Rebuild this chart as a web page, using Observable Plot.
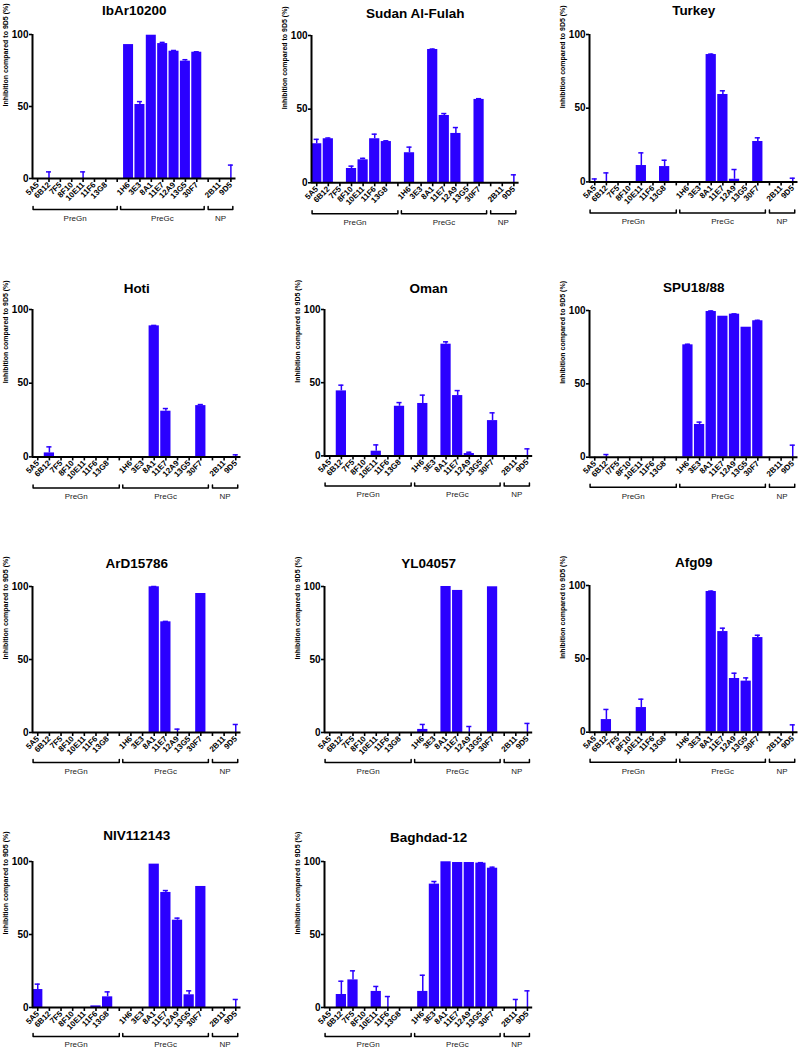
<!DOCTYPE html>
<html><head><meta charset="utf-8">
<script src="https://cdn.jsdelivr.net/npm/d3@7"></script>
<script src="https://cdn.jsdelivr.net/npm/@observablehq/plot@0.6"></script>
<style>
body{margin:0;background:#fff;}
#wrap{position:relative;width:798px;height:1050px;overflow:hidden;background:#fff;}
#wrap svg{position:absolute;overflow:visible;background:transparent;}
#wrap g[aria-label^="x-axis"] text{font-size:8px;font-weight:bold;fill:#000;}
#wrap g[aria-label^="y-axis"] text{font-size:10px;font-weight:bold;fill:#000;}
#wrap g[aria-label^="x-axis"] line,#wrap g[aria-label^="x-axis"] path,
#wrap g[aria-label^="y-axis"] line,#wrap g[aria-label^="y-axis"] path{stroke-width:1.6px;stroke:#000;}
</style></head><body><div id="wrap"></div><script>
const antibodies = ["5A5","6B12","7F5","8F10","10E11","11F6","13G8","1H6","3E3","8A1","11E7","12A9","13G5","30F7","2B11","9D5"];
const slotLabels = ["5A5","6B12","7F5","8F10","10E11","11F6","13G8","","1H6","3E3","8A1","11E7","12A9","13G5","30F7","","2B11","9D5"];
const spuSlotLabels = ["5A5","6B12","I7F5","8F10","10E11","11F6","13G8","","1H6","3E3","8A1","11E7","12A9","13G5","30F7","","2B11","9D5"];
const groups = ["PreGn","PreGc","NP"];
const yTicks = [0,50,100];
const yLabel = "Inhibition compared to 9D5 (%)";

const ibarMean = [0,0,0,0,0,0,0, 93,51.4,99.5,93.7,88.4,81.5,87.7, 0,0];
const ibarErr  = [0,4.6,0,0,4.6,0,0, 0,2,0,0.8,0.5,1,0.3, 0,9.3];
const sudanMean = [26.5,29.9,0,9.7,15.6,29.9,28, 20.4,0,90.5,45.7,33.5,0,56.6, 0,0];
const sudanErr  = [3,0.5,0,1.6,1,3.1,0.5, 3.8,0,0.3,1.3,4,0,0.5, 0,5.4];
const turkeyMean = [0,0,0,0,11.1,0,10.4, 0,0,86.4,59.3,1.8,0,27.4, 0,0];
const turkeyErr  = [2,6.1,0,0,8.6,0,4.3, 0,0,0.3,2.5,6.6,0,2.5, 0,2.5];
const hotiMean = [0,2.7,0,0,0,0,0, 0,0,88.9,31,0,0,34.8, 0,0];
const hotiErr  = [0,4.1,0,0,0,0,0, 0,0,0.3,1.8,0,0,0.7, 0,1.4];
const omanMean = [0,44.4,0,0,3.2,0,33.9, 35.8,0,76.3,41.2,1.6,0,24.1, 0,0];
const omanErr  = [0,3.9,0,0,4.3,0,2.5, 5.7,0,1.6,3.4,0.9,0,5.3, 0,4.8];
const spuMean = [0,0,0,0,0,0,0, 76.6,22.3,99.3,96.1,97.5,88.6,93, 0,0];
const spuErr  = [0,1.8,0,0,0,0,0, 0.4,1.6,0.4,0,0.2,0,0.3, 0,8.2];
const ardMean = [0,0,0,0,0,0,0, 0,0,99.8,75.8,0,0,95.2, 0,0];
const ardErr  = [0,0,0,0,0,0,0, 0,0,0.2,0.3,2.3,0,0, 0,5.5];
const ylMean = [0,0,0,0,0,0,0, 2.1,0,100,97.3,0,0,99.8, 0,0];
const ylErr  = [0,0,0,0,0,0,0, 3.4,0,0,0,4.1,0,0, 0,6.2];
const afgMean = [0,8.6,0,0,16.8,0,0, 0,0,95.9,68.6,36.6,34.8,64.5, 0,0];
const afgErr  = [0,6.9,0,0,5.7,0,0, 0,0,0.3,2.3,3.6,2.2,1.6, 0,5];
const nivMean = [12.3,0,0,0,0,1.1,7.3, 0,0,98.2,78.8,59.8,8.7,82.9, 0,0];
const nivErr  = [3.7,0,0,0,0,0,3.4, 0,0,0,1.3,1.4,2.7,0, 0,5.5];
const baghdadMean = [0,8.9,18.9,0,11,0,0, 11,84.5,99.8,99.3,99.3,98.9,95.4, 0,0];
const baghdadErr  = [0,9.1,6.2,0,3.4,7.5,0, 11.1,1.8,0,0,0,0.3,0.7, 5.5,11.4];

const panels = [
  {name:"IbAr10200", mean:ibarMean, err:ibarErr, labels:slotLabels},
  {name:"Sudan Al-Fulah", mean:sudanMean, err:sudanErr, labels:slotLabels},
  {name:"Turkey", mean:turkeyMean, err:turkeyErr, labels:slotLabels},
  {name:"Hoti", mean:hotiMean, err:hotiErr, labels:slotLabels},
  {name:"Oman", mean:omanMean, err:omanErr, labels:slotLabels},
  {name:"SPU18/88", mean:spuMean, err:spuErr, labels:spuSlotLabels},
  {name:"ArD15786", mean:ardMean, err:ardErr, labels:slotLabels},
  {name:"YL04057", mean:ylMean, err:ylErr, labels:slotLabels},
  {name:"Afg09", mean:afgMean, err:afgErr, labels:slotLabels},
  {name:"NIV112143", mean:nivMean, err:nivErr, labels:slotLabels},
  {name:"Baghdad-12", mean:baghdadMean, err:baghdadErr, labels:slotLabels}
];

// layout: [axisX, frameWidth, yTop(100), yBottom(0), titleCenterY, bracketOffset, bracketLabelOffset]
const layout = [
  [32, 203.5, 34.3, 178.3, 5.5, 31, 9],
  [310.7, 207.6, 35, 182.3, 8.3, 31, 9],
  [589.2, 208.5, 34.3, 181.7, 5.5, 31, 9],
  [32.4, 208.5, 309.3, 456.7, 283, 31, 9],
  [323.7, 208.2, 309.3, 455.7, 283, 30, 9],
  [589.2, 208.5, 310, 456.7, 282, 30, 9],
  [32.4, 208.5, 585.7, 731.7, 558, 30, 9],
  [323.7, 208.2, 585.7, 731.7, 558, 30, 9],
  [589.2, 208.5, 585, 731.7, 557, 30, 9],
  [32.4, 208.5, 860.7, 1006.7, 830, 29, 7.5],
  [323.7, 208.2, 860.7, 1006.7, 832, 29, 7.5]
];
const bracketStart = [-0.4, 7.3, 15.0];
const bracketEnd = [7.0, 14.65, 17.17];
const barColor = "#2b00ff";
const font = "'Liberation Sans', Arial, Helvetica, sans-serif";

function slotOf(k){ return k < 7 ? k : k < 14 ? k + 1 : k + 2; }
const slots = d3.range(slotLabels.length);
const wrap = document.getElementById("wrap");

panels.forEach((p, i) => {
  const [ax, w, yTop, yBot, ty, bo, lo] = layout[i];
  const h = yBot - yTop;
  const mL = 45, mR = 8, mT = 40, mB = 62;
  const rows = antibodies.map((a, k) => ({ab: a, s: slotOf(k), v: p.mean[k], e: p.err[k]}));
  const u = 100 / h;
  const brY = -bo * u, brTick = -(bo - 3) * u;
  const brPts = groups.flatMap((g, j) => [
    {g, x: bracketStart[j], y: brTick},
    {g, x: bracketStart[j], y: brY},
    {g, x: bracketEnd[j], y: brY},
    {g, x: bracketEnd[j], y: brTick}
  ]);
  const brLab = groups.map((g, j) => ({g, x: (bracketStart[j] + bracketEnd[j]) / 2}));
  const errs = rows.filter(r => r.e > 0);
  const svg = Plot.plot({
    width: mL + w + mR,
    height: mT + h + mB,
    marginLeft: mL, marginRight: mR, marginTop: mT, marginBottom: mB,
    style: {fontFamily: font, background: "transparent", overflow: "visible"},
    x: {domain: [-0.45, 17.45], ticks: slots, tickFormat: d => p.labels[d], tickRotate: -45, tickSize: 4, tickPadding: 1, label: null},
    y: {domain: [0, 100], ticks: yTicks, tickSize: 3, tickPadding: 1, label: null},
    marks: [
      Plot.rect(rows.filter(r => r.v > 0), {x1: r => r.s - 0.44, x2: r => r.s + 0.44, y1: 0, y2: "v", fill: barColor}),
      Plot.ruleX(errs, {x: "s", y1: "v", y2: r => r.v + r.e, stroke: barColor, strokeWidth: 1.5}),
      Plot.ruleY(errs, {y: r => r.v + r.e, x1: r => r.s - 0.22, x2: r => r.s + 0.22, stroke: barColor, strokeWidth: 1.5}),
      Plot.ruleY([0], {stroke: "#000", strokeWidth: 2}),
      Plot.ruleX([-0.45], {y1: 0, y2: 100, stroke: "#000", strokeWidth: 2}),
      Plot.line(brPts, {x: "x", y: "y", z: "g", stroke: "#000", strokeWidth: 1.5}),
      Plot.text(brLab, {x: "x", y: brY, dy: lo, text: "g", fontSize: 8, fill: "#222"}),
      Plot.text([p.name], {frameAnchor: "top", dy: ty - yTop, fontSize: 13.5, fontWeight: "bold", fill: "#000"}),
      Plot.text([yLabel], {frameAnchor: "left", rotate: -90, dx: -27, fontSize: 7, fontWeight: "bold", fill: "#000"})
    ]
  });
  svg.style.left = (ax - mL) + "px";
  svg.style.top = (yTop - mT) + "px";
  wrap.appendChild(svg);
});
</script></body></html>
